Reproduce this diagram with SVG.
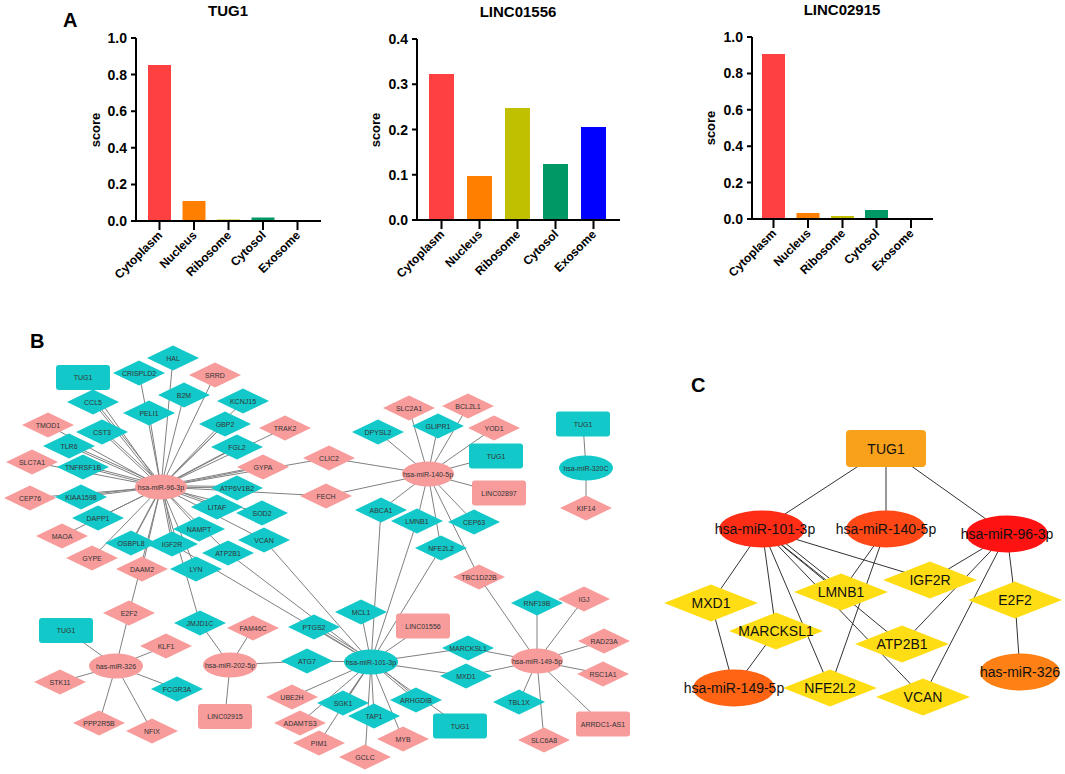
<svg xmlns="http://www.w3.org/2000/svg" xmlns:xlink="http://www.w3.org/1999/xlink" width="1065" height="774" viewBox="0 0 1065 774">
<style>
text{font-family:"Liberation Sans",Arial,sans-serif}
.lbl{font-weight:bold;font-size:20px;fill:#000}
.ttl{font-weight:bold;font-size:15px;text-anchor:middle}
.tk{font-weight:bold;font-size:14px;text-anchor:end}
.cat{font-weight:bold;font-size:12px;text-anchor:end}
.yl{font-weight:bold;font-size:13px;text-anchor:middle}
.ax{stroke:#000;stroke-width:2;fill:none}
.e{stroke:#808080;stroke-width:1}
.ec{stroke:#333;stroke-width:1}
.t use,.t rect,.t ellipse{fill:#12C8C8}
.p use,.p rect,.p ellipse{fill:#F79B9B}
.nb text{font-size:7px;fill:#333;text-anchor:middle}
.nc text{font-size:14px;fill:#111;text-anchor:middle}
.y use{fill:#FFDD15}
</style>
<defs>
<path id="dm" d="M-26,0 L0,-12.5 L26,0 L0,12.5Z"/>
<path id="dc" d="M-47,0 L0,-18.5 L47,0 L0,18.5Z"/>
</defs>
<rect width="1065" height="774" fill="#fff"/>

<!-- Panel A -->
<text class="lbl" x="63" y="27">A</text>
<g id="chart-tug1">
<text class="ttl" x="228" y="16">TUG1</text>
<text class="yl" transform="translate(100,130) rotate(-90)">score</text>
<rect x="148" y="65" width="23" height="156" fill="#FF4040"/>
<rect x="182.5" y="201" width="23" height="20" fill="#FF8000"/>
<rect x="217" y="219.5" width="23" height="1.5" fill="#C0C000"/>
<rect x="251.5" y="217.5" width="23" height="3.5" fill="#009966"/>
<path class="ax" d="M136,38V221H321 M131,38H136 M131,74.6H136 M131,111.2H136 M131,147.8H136 M131,184.4H136 M131,221H136 M159.5,221V230 M194,221V230 M228.5,221V230 M263,221V230 M297.5,221V230"/>
<text class="tk" x="127" y="43">1.0</text><text class="tk" x="127" y="79.6">0.8</text><text class="tk" x="127" y="116.2">0.6</text><text class="tk" x="127" y="152.8">0.4</text><text class="tk" x="127" y="189.4">0.2</text><text class="tk" x="127" y="226">0.0</text>
<text class="cat" transform="translate(163,236) rotate(-45)">Cytoplasm</text>
<text class="cat" transform="translate(197.5,236) rotate(-45)">Nucleus</text>
<text class="cat" transform="translate(232,236) rotate(-45)">Ribosome</text>
<text class="cat" transform="translate(266.5,236) rotate(-45)">Cytosol</text>
<text class="cat" transform="translate(301,236) rotate(-45)">Exosome</text>
</g>
<g id="chart-linc01556">
<text class="ttl" x="518" y="17">LINC01556</text>
<text class="yl" transform="translate(380,130) rotate(-90)">score</text>
<rect x="429" y="74" width="25" height="146" fill="#FF4040"/>
<rect x="467" y="176" width="25" height="44" fill="#FF8000"/>
<rect x="505" y="108" width="25" height="112" fill="#C0C000"/>
<rect x="543" y="164" width="25" height="56" fill="#009966"/>
<rect x="581" y="127" width="25" height="93" fill="#0000FF"/>
<path class="ax" d="M417,39V220H620 M412,39H417 M412,84.25H417 M412,129.5H417 M412,174.75H417 M412,220H417 M441.5,220V229 M479.5,220V229 M517.5,220V229 M555.5,220V229 M593.5,220V229"/>
<text class="tk" x="408" y="44">0.4</text><text class="tk" x="408" y="89.25">0.3</text><text class="tk" x="408" y="134.5">0.2</text><text class="tk" x="408" y="179.75">0.1</text><text class="tk" x="408" y="225">0.0</text>
<text class="cat" transform="translate(445,235) rotate(-45)">Cytoplasm</text>
<text class="cat" transform="translate(483,235) rotate(-45)">Nucleus</text>
<text class="cat" transform="translate(521,235) rotate(-45)">Ribosome</text>
<text class="cat" transform="translate(559,235) rotate(-45)">Cytosol</text>
<text class="cat" transform="translate(597,235) rotate(-45)">Exosome</text>
</g>
<g id="chart-linc02915">
<text class="ttl" x="842" y="15">LINC02915</text>
<text class="yl" transform="translate(715,128) rotate(-90)">score</text>
<rect x="762" y="54" width="23" height="165" fill="#FF4040"/>
<rect x="796.5" y="213" width="23" height="6" fill="#FF8000"/>
<rect x="831" y="216" width="23" height="3" fill="#C0C000"/>
<rect x="865" y="210" width="23" height="9" fill="#009966"/>
<path class="ax" d="M752,37V219H933 M747,37H752 M747,73.4H752 M747,109.8H752 M747,146.2H752 M747,182.6H752 M747,219H752 M773.5,219V228 M808,219V228 M842.5,219V228 M876.5,219V228 M911,219V228"/>
<text class="tk" x="743" y="42">1.0</text><text class="tk" x="743" y="78.4">0.8</text><text class="tk" x="743" y="114.8">0.6</text><text class="tk" x="743" y="151.2">0.4</text><text class="tk" x="743" y="187.6">0.2</text><text class="tk" x="743" y="224">0.0</text>
<text class="cat" transform="translate(777,234) rotate(-45)">Cytoplasm</text>
<text class="cat" transform="translate(811.5,234) rotate(-45)">Nucleus</text>
<text class="cat" transform="translate(846,234) rotate(-45)">Ribosome</text>
<text class="cat" transform="translate(880,234) rotate(-45)">Cytosol</text>
<text class="cat" transform="translate(914.5,234) rotate(-45)">Exosome</text>
</g>

<!-- Panel B -->
<text class="lbl" x="30" y="348">B</text>
<g id="connectors-b">
<g id="dbl">
<line class="e" x1="161" y1="487" x2="93" y2="402"/>
<line class="e" x1="161" y1="487" x2="102" y2="432"/>
<line class="e" x1="161" y1="487" x2="69" y2="446"/>
<line class="e" x1="161" y1="487" x2="83" y2="467"/>
<line class="e" x1="161" y1="487" x2="81" y2="497"/>
<line class="e" x1="161" y1="487" x2="263" y2="467"/>
<line class="e" x1="161" y1="487" x2="237" y2="488"/>
<line class="e" x1="161" y1="487" x2="225" y2="424"/>
<line class="e" x1="161" y1="487" x2="237" y2="447"/>
<line class="e" x1="161" y1="487" x2="217" y2="507"/>
<line class="e" x1="161" y1="487" x2="172" y2="544"/>
<line class="e" x1="161" y1="487" x2="131" y2="543"/>
<line class="e" x1="371" y1="662" x2="314" y2="627"/>
<line class="e" x1="371" y1="662" x2="416" y2="700"/>
<line class="e" x1="371" y1="662" x2="343" y2="703"/>
</g>
<use xlink:href="#dbl" href="#dbl" transform="translate(1.4,-1.4)"/>
<!-- hsa-miR-96-3p -->
<line class="e" x1="161" y1="487" x2="173" y2="358"/>
<line class="e" x1="161" y1="487" x2="83" y2="377"/>
<line class="e" x1="161" y1="487" x2="139" y2="373"/>
<line class="e" x1="161" y1="487" x2="215" y2="375"/>
<line class="e" x1="161" y1="487" x2="184" y2="395"/>
<line class="e" x1="161" y1="487" x2="243" y2="401"/>
<line class="e" x1="161" y1="487" x2="149" y2="413"/>
<line class="e" x1="161" y1="487" x2="48" y2="425"/>
<line class="e" x1="161" y1="487" x2="285" y2="428"/>
<line class="e" x1="161" y1="487" x2="32" y2="462"/>
<line class="e" x1="161" y1="487" x2="329" y2="458"/>
<line class="e" x1="161" y1="487" x2="30" y2="498"/>
<line class="e" x1="161" y1="487" x2="326" y2="496"/>
<line class="e" x1="161" y1="487" x2="98" y2="518"/>
<line class="e" x1="161" y1="487" x2="262" y2="513"/>
<line class="e" x1="161" y1="487" x2="62" y2="536"/>
<line class="e" x1="161" y1="487" x2="199" y2="529"/>
<line class="e" x1="161" y1="487" x2="264" y2="540"/>
<line class="e" x1="161" y1="487" x2="92" y2="558"/>
<line class="e" x1="161" y1="487" x2="228" y2="553"/>
<line class="e" x1="161" y1="487" x2="142" y2="569"/>
<line class="e" x1="161" y1="487" x2="196" y2="569"/>
<line class="e" x1="161" y1="487" x2="129" y2="613"/>
<line class="e" x1="161" y1="487" x2="200" y2="623"/>
<!-- hsa-miR-140-5p -->
<line class="e" x1="428" y1="474" x2="409" y2="408"/>
<line class="e" x1="428" y1="474" x2="468" y2="406"/>
<line class="e" x1="428" y1="474" x2="438" y2="426"/>
<line class="e" x1="428" y1="474" x2="494" y2="428"/>
<line class="e" x1="428" y1="474" x2="378" y2="432"/>
<line class="e" x1="428" y1="474" x2="496" y2="456"/>
<line class="e" x1="428" y1="474" x2="329" y2="458"/>
<line class="e" x1="428" y1="474" x2="326" y2="496"/>
<line class="e" x1="428" y1="474" x2="499" y2="493"/>
<line class="e" x1="428" y1="474" x2="381" y2="510"/>
<line class="e" x1="428" y1="474" x2="417" y2="521"/>
<line class="e" x1="428" y1="474" x2="474" y2="522"/>
<line class="e" x1="428" y1="474" x2="441" y2="548"/>
<line class="e" x1="428" y1="474" x2="479" y2="577"/>
<!-- hsa-miR-101-3p -->
<line class="e" x1="371" y1="662" x2="381" y2="510"/>
<line class="e" x1="371" y1="662" x2="417" y2="521"/>
<line class="e" x1="371" y1="662" x2="441" y2="548"/>
<line class="e" x1="371" y1="662" x2="361" y2="612"/>
<line class="e" x1="371" y1="662" x2="423" y2="626"/>
<line class="e" x1="371" y1="662" x2="307" y2="661"/>
<line class="e" x1="371" y1="662" x2="468" y2="648"/>
<line class="e" x1="371" y1="662" x2="466" y2="676"/>
<line class="e" x1="371" y1="662" x2="292" y2="697"/>
<line class="e" x1="371" y1="662" x2="300" y2="723"/>
<line class="e" x1="371" y1="662" x2="319" y2="743"/>
<line class="e" x1="371" y1="662" x2="374" y2="716"/>
<line class="e" x1="371" y1="662" x2="365" y2="757"/>
<line class="e" x1="371" y1="662" x2="403" y2="739"/>
<line class="e" x1="371" y1="662" x2="460" y2="726"/>
<line class="e" x1="371" y1="662" x2="264" y2="540"/>
<line class="e" x1="371" y1="662" x2="228" y2="553"/>
<line class="e" x1="371" y1="662" x2="172" y2="544"/>
<!-- hsa-miR-149-5p -->
<line class="e" x1="537" y1="661" x2="479" y2="577"/>
<line class="e" x1="537" y1="661" x2="537" y2="603"/>
<line class="e" x1="537" y1="661" x2="584" y2="599"/>
<line class="e" x1="537" y1="661" x2="604" y2="641"/>
<line class="e" x1="537" y1="661" x2="603" y2="674"/>
<line class="e" x1="537" y1="661" x2="603" y2="724"/>
<line class="e" x1="537" y1="661" x2="544" y2="740"/>
<line class="e" x1="537" y1="661" x2="519" y2="702"/>
<line class="e" x1="537" y1="661" x2="466" y2="676"/>
<line class="e" x1="537" y1="661" x2="468" y2="648"/>
<!-- has-miR-326 -->
<line class="e" x1="116" y1="666" x2="66" y2="630"/>
<line class="e" x1="116" y1="666" x2="129" y2="613"/>
<line class="e" x1="116" y1="666" x2="166" y2="646"/>
<line class="e" x1="116" y1="666" x2="60" y2="682"/>
<line class="e" x1="116" y1="666" x2="177" y2="689"/>
<line class="e" x1="116" y1="666" x2="99" y2="723"/>
<line class="e" x1="116" y1="666" x2="152" y2="731"/>
<!-- hsa-miR-202-5p -->
<line class="e" x1="230" y1="665" x2="200" y2="623"/>
<line class="e" x1="230" y1="665" x2="253" y2="628"/>
<line class="e" x1="230" y1="665" x2="307" y2="661"/>
<line class="e" x1="230" y1="665" x2="225" y2="716"/>
<!-- hsa-miR-320C -->
<line class="e" x1="586" y1="468" x2="583" y2="424"/>
<line class="e" x1="586" y1="468" x2="586" y2="508"/>
</g>

<g class="nb">
<g id="b-HAL" class="t"><use href="#dm" x="173" y="358"/><text x="173" y="360.5">HAL</text></g>
<g id="b-TUG1-a" class="t"><rect x="56" y="365" width="54" height="25" rx="3"/><text x="83" y="380">TUG1</text></g>
<g id="b-CRISPLD2" class="t"><use href="#dm" x="139" y="373"/><text x="139" y="375.5">CRISPLD2</text></g>
<g id="b-SRRD" class="p"><use href="#dm" x="215" y="375"/><text x="215" y="377.5">SRRD</text></g>
<g id="b-B2M" class="t"><use href="#dm" x="184" y="395"/><text x="184" y="397.5">B2M</text></g>
<g id="b-CCL5" class="t"><use href="#dm" x="93" y="402"/><text x="93" y="404.5">CCL5</text></g>
<g id="b-KCNJ15" class="t"><use href="#dm" x="243" y="401"/><text x="243" y="403.5">KCNJ15</text></g>
<g id="b-PELI1" class="t"><use href="#dm" x="149" y="413"/><text x="149" y="415.5">PELI1</text></g>
<g id="b-TMOD1" class="p"><use href="#dm" x="48" y="425"/><text x="48" y="427.5">TMOD1</text></g>
<g id="b-GBP2" class="t"><use href="#dm" x="225" y="424"/><text x="225" y="426.5">GBP2</text></g>
<g id="b-TRAK2" class="p"><use href="#dm" x="285" y="428"/><text x="285" y="430.5">TRAK2</text></g>
<g id="b-CST3" class="t"><use href="#dm" x="102" y="432"/><text x="102" y="434.5">CST3</text></g>
<g id="b-TLR6" class="t"><use href="#dm" x="69" y="446"/><text x="69" y="448.5">TLR6</text></g>
<g id="b-FGL2" class="t"><use href="#dm" x="237" y="447"/><text x="237" y="449.5">FGL2</text></g>
<g id="b-SLC7A1" class="p"><use href="#dm" x="32" y="462"/><text x="32" y="464.5">SLC7A1</text></g>
<g id="b-TNFRSF1B" class="t"><use href="#dm" x="83" y="467"/><text x="83" y="469.5">TNFRSF1B</text></g>
<g id="b-GYPA" class="p"><use href="#dm" x="263" y="467"/><text x="263" y="469.5">GYPA</text></g>
<g id="b-CLIC2" class="p"><use href="#dm" x="329" y="458"/><text x="329" y="460.5">CLIC2</text></g>
<g id="b-CEP76" class="p"><use href="#dm" x="30" y="498"/><text x="30" y="500.5">CEP76</text></g>
<g id="b-KIAA1598" class="t"><use href="#dm" x="81" y="497"/><text x="81" y="499.5">KIAA1598</text></g>
<g id="b-ATP6V1B2" class="t"><use href="#dm" x="237" y="488"/><text x="237" y="490.5">ATP6V1B2</text></g>
<g id="b-FECH" class="p"><use href="#dm" x="326" y="496"/><text x="326" y="498.5">FECH</text></g>
<g id="b-DAPP1" class="t"><use href="#dm" x="98" y="518"/><text x="98" y="520.5">DAPP1</text></g>
<g id="b-LITAF" class="t"><use href="#dm" x="217" y="507"/><text x="217" y="509.5">LITAF</text></g>
<g id="b-SOD2" class="t"><use href="#dm" x="262" y="513"/><text x="262" y="515.5">SOD2</text></g>
<g id="b-MAOA" class="p"><use href="#dm" x="62" y="536"/><text x="62" y="538.5">MAOA</text></g>
<g id="b-NAMPT" class="t"><use href="#dm" x="199" y="529"/><text x="199" y="531.5">NAMPT</text></g>
<g id="b-VCAN" class="t"><use href="#dm" x="264" y="540"/><text x="264" y="542.5">VCAN</text></g>
<g id="b-GYPE" class="p"><use href="#dm" x="92" y="558"/><text x="92" y="560.5">GYPE</text></g>
<g id="b-OSBPL8" class="t"><use href="#dm" x="131" y="543"/><text x="131" y="545.5">OSBPL8</text></g>
<g id="b-IGF2R" class="t"><use href="#dm" x="172" y="544"/><text x="172" y="546.5">IGF2R</text></g>
<g id="b-ATP2B1" class="t"><use href="#dm" x="228" y="553"/><text x="228" y="555.5">ATP2B1</text></g>
<g id="b-DAAM2" class="p"><use href="#dm" x="142" y="569"/><text x="142" y="571.5">DAAM2</text></g>
<g id="b-LYN" class="t"><use href="#dm" x="196" y="569"/><text x="196" y="571.5">LYN</text></g>
<g id="b-hsa-miR-96-3p" class="p"><ellipse cx="161" cy="487" rx="26" ry="12.5"/><text x="161" y="489.5">hsa-miR-96-3p</text></g>

<g id="b-SLC2A1" class="p"><use href="#dm" x="409" y="408"/><text x="409" y="410.5">SLC2A1</text></g>
<g id="b-BCL2L1" class="p"><use href="#dm" x="468" y="406"/><text x="468" y="408.5">BCL2L1</text></g>
<g id="b-GLIPR1" class="t"><use href="#dm" x="438" y="426"/><text x="438" y="428.5">GLIPR1</text></g>
<g id="b-YOD1" class="p"><use href="#dm" x="494" y="428"/><text x="494" y="430.5">YOD1</text></g>
<g id="b-DPYSL2" class="t"><use href="#dm" x="378" y="432"/><text x="378" y="434.5">DPYSL2</text></g>
<g id="b-TUG1-b" class="t"><rect x="469" y="443.5" width="54" height="25" rx="3"/><text x="496" y="458.5">TUG1</text></g>
<g id="b-LINC02897" class="p"><rect x="472" y="480.5" width="54" height="25" rx="3"/><text x="499" y="495.5">LINC02897</text></g>
<g id="b-ABCA1" class="t"><use href="#dm" x="381" y="510"/><text x="381" y="512.5">ABCA1</text></g>
<g id="b-LMNB1" class="t"><use href="#dm" x="417" y="521"/><text x="417" y="523.5">LMNB1</text></g>
<g id="b-CEP63" class="t"><use href="#dm" x="474" y="522"/><text x="474" y="524.5">CEP63</text></g>
<g id="b-hsa-miR-140-5p" class="p"><ellipse cx="428" cy="474" rx="26" ry="12.5"/><text x="428" y="476.5">hsa-miR-140-5p</text></g>

<g id="b-TUG1-e" class="t"><rect x="556" y="411.5" width="54" height="25" rx="3"/><text x="583" y="426.5">TUG1</text></g>
<g id="b-KIF14" class="p"><use href="#dm" x="586" y="508"/><text x="586" y="510.5">KIF14</text></g>
<g id="b-hsa-miR-320C" class="t"><ellipse cx="586" cy="468" rx="27" ry="12.5"/><text x="586" y="470.5">hsa-miR-320C</text></g>

<g id="b-E2F2" class="p"><use href="#dm" x="129" y="613"/><text x="129" y="615.5">E2F2</text></g>
<g id="b-TUG1-d" class="t"><rect x="39" y="618" width="54" height="25" rx="3"/><text x="66" y="633">TUG1</text></g>
<g id="b-KLF1" class="p"><use href="#dm" x="166" y="646"/><text x="166" y="648.5">KLF1</text></g>
<g id="b-STK11" class="p"><use href="#dm" x="60" y="682"/><text x="60" y="684.5">STK11</text></g>
<g id="b-FCGR3A" class="t"><use href="#dm" x="177" y="689"/><text x="177" y="691.5">FCGR3A</text></g>
<g id="b-PPP2R5B" class="p"><use href="#dm" x="99" y="723"/><text x="99" y="725.5">PPP2R5B</text></g>
<g id="b-NFIX" class="p"><use href="#dm" x="152" y="731"/><text x="152" y="733.5">NFIX</text></g>
<g id="b-has-miR-326" class="p"><ellipse cx="116" cy="666" rx="27" ry="12.5"/><text x="116" y="668.5">has-miR-326</text></g>

<g id="b-JMJD1C" class="t"><use href="#dm" x="200" y="623"/><text x="200" y="625.5">JMJD1C</text></g>
<g id="b-FAM46C" class="p"><use href="#dm" x="253" y="628"/><text x="253" y="630.5">FAM46C</text></g>
<g id="b-LINC02915" class="p"><rect x="198" y="704" width="54" height="25" rx="3"/><text x="225" y="719">LINC02915</text></g>
<g id="b-hsa-miR-202-5p" class="p"><ellipse cx="230" cy="665" rx="27" ry="12.5"/><text x="230" y="667.5">hsa-miR-202-5p</text></g>

<g id="b-PTGS2" class="t"><use href="#dm" x="314" y="627"/><text x="314" y="629.5">PTGS2</text></g>
<g id="b-ATG7" class="t"><use href="#dm" x="307" y="661"/><text x="307" y="663.5">ATG7</text></g>
<g id="b-MCL1" class="t"><use href="#dm" x="361" y="612"/><text x="361" y="614.5">MCL1</text></g>
<g id="b-LINC01556" class="p"><rect x="396" y="613.5" width="54" height="25" rx="3"/><text x="423" y="628.5">LINC01556</text></g>
<g id="b-NFE2L2" class="t"><use href="#dm" x="441" y="548"/><text x="441" y="550.5">NFE2L2</text></g>
<g id="b-UBE2H" class="p"><use href="#dm" x="292" y="697"/><text x="292" y="699.5">UBE2H</text></g>
<g id="b-ADAMTS3" class="p"><use href="#dm" x="300" y="723"/><text x="300" y="725.5">ADAMTS3</text></g>
<g id="b-PIM1" class="p"><use href="#dm" x="319" y="743"/><text x="319" y="745.5">PIM1</text></g>
<g id="b-SGK1" class="t"><use href="#dm" x="343" y="703"/><text x="343" y="705.5">SGK1</text></g>
<g id="b-GCLC" class="p"><use href="#dm" x="365" y="757"/><text x="365" y="759.5">GCLC</text></g>
<g id="b-MYB" class="p"><use href="#dm" x="403" y="739"/><text x="403" y="741.5">MYB</text></g>
<g id="b-TAP1" class="t"><use href="#dm" x="374" y="716"/><text x="374" y="718.5">TAP1</text></g>
<g id="b-ARHGDIB" class="t"><use href="#dm" x="416" y="700"/><text x="416" y="702.5">ARHGDIB</text></g>
<g id="b-TUG1-c" class="t"><rect x="433" y="713.5" width="54" height="25" rx="3"/><text x="460" y="728.5">TUG1</text></g>
<g id="b-MARCKSL1" class="t"><use href="#dm" x="468" y="648"/><text x="468" y="650.5">MARCKSL1</text></g>
<g id="b-MXD1" class="t"><use href="#dm" x="466" y="676"/><text x="466" y="678.5">MXD1</text></g>
<g id="b-hsa-miR-101-3p" class="t"><ellipse cx="371" cy="662" rx="27" ry="12.5"/><text x="371" y="664.5">hsa-miR-101-3p</text></g>

<g id="b-TBC1D22B" class="p"><use href="#dm" x="479" y="577"/><text x="479" y="579.5">TBC1D22B</text></g>
<g id="b-RNF19B" class="t"><use href="#dm" x="537" y="603"/><text x="537" y="605.5">RNF19B</text></g>
<g id="b-IGJ" class="p"><use href="#dm" x="584" y="599"/><text x="584" y="601.5">IGJ</text></g>
<g id="b-RAD23A" class="p"><use href="#dm" x="604" y="641"/><text x="604" y="643.5">RAD23A</text></g>
<g id="b-RSC1A1" class="p"><use href="#dm" x="603" y="674"/><text x="603" y="676.5">RSC1A1</text></g>
<g id="b-TBL1X" class="t"><use href="#dm" x="519" y="702"/><text x="519" y="704.5">TBL1X</text></g>
<g id="b-ARRDC1-AS1" class="p"><rect x="576" y="711.5" width="54" height="25" rx="3"/><text x="603" y="726.5">ARRDC1-AS1</text></g>
<g id="b-SLC6A8" class="p"><use href="#dm" x="544" y="740"/><text x="544" y="742.5">SLC6A8</text></g>
<g id="b-hsa-miR-149-5p" class="p"><ellipse cx="537" cy="661" rx="26" ry="12.5"/><text x="537" y="663.5">hsa-miR-149-5p</text></g>
</g>

<!-- Panel C -->
<text class="lbl" x="691" y="392">C</text>
<g id="connectors-c">
<line class="ec" x1="886" y1="448" x2="762" y2="529"/>
<line class="ec" x1="886" y1="448" x2="886" y2="529"/>
<line class="ec" x1="886" y1="448" x2="1007" y2="534"/>
<line class="ec" x1="762" y1="529" x2="711" y2="603"/>
<line class="ec" x1="762" y1="529" x2="776" y2="631"/>
<line class="ec" x1="762" y1="529" x2="830" y2="688"/>
<line class="ec" x1="762" y1="529" x2="841" y2="592"/>
<line class="ec" x1="765" y1="527" x2="844" y2="590"/>
<line class="ec" x1="762" y1="529" x2="930" y2="580"/>
<line class="ec" x1="762" y1="529" x2="902" y2="644"/>
<line class="ec" x1="762" y1="529" x2="923" y2="697"/>
<line class="ec" x1="886" y1="529" x2="841" y2="592"/>
<line class="ec" x1="886" y1="529" x2="830" y2="688"/>
<line class="ec" x1="1007" y1="534" x2="930" y2="580"/>
<line class="ec" x1="1007" y1="534" x2="902" y2="644"/>
<line class="ec" x1="1007" y1="534" x2="923" y2="697"/>
<line class="ec" x1="1007" y1="534" x2="1015" y2="600"/>
<line class="ec" x1="1015" y1="600" x2="1020" y2="672"/>
<line class="ec" x1="711" y1="603" x2="734" y2="688"/>
<line class="ec" x1="776" y1="631" x2="734" y2="688"/>
</g>
<g class="nc">
<g id="c-TUG1"><rect x="846" y="430" width="80" height="37" rx="4" fill="#F9A11B"/><text x="886" y="453.5">TUG1</text></g>
<g id="c-hsa-miR-101-3p"><ellipse cx="762" cy="529" rx="43" ry="18.5" fill="#FF2D16"/><text x="765" y="534">hsa-miR-101-3p</text></g>
<g id="c-hsa-miR-140-5p"><ellipse cx="886" cy="529" rx="40" ry="18.5" fill="#FF4815"/><text x="886" y="534">hsa-miR-140-5p</text></g>
<g id="c-hsa-miR-96-3p"><ellipse cx="1007" cy="534" rx="41" ry="18.5" fill="#FF1212"/><text x="1007" y="539">hsa-miR-96-3p</text></g>
<g id="c-IGF2R" class="y"><use href="#dc" x="930" y="580"/><text x="930" y="585">IGF2R</text></g>
<g id="c-E2F2" class="y"><use href="#dc" x="1015" y="600"/><text x="1015" y="605">E2F2</text></g>
<g id="c-LMNB1" class="y"><use href="#dc" x="841" y="592"/><text x="841" y="597">LMNB1</text></g>
<g id="c-MXD1" class="y"><use href="#dc" x="711" y="603"/><text x="711" y="608">MXD1</text></g>
<g id="c-MARCKSL1" class="y"><use href="#dc" x="776" y="631"/><text x="776" y="636">MARCKSL1</text></g>
<g id="c-ATP2B1" class="y"><use href="#dc" x="902" y="644"/><text x="902" y="649">ATP2B1</text></g>
<g id="c-NFE2L2" class="y"><use href="#dc" x="830" y="688"/><text x="830" y="693">NFE2L2</text></g>
<g id="c-VCAN" class="y"><use href="#dc" x="923" y="697"/><text x="923" y="702">VCAN</text></g>
<g id="c-has-miR-326"><ellipse cx="1020" cy="672" rx="40" ry="18.5" fill="#FF8014"/><text x="1020" y="677">has-miR-326</text></g>
<g id="c-hsa-miR-149-5p"><ellipse cx="734" cy="688" rx="41" ry="18.5" fill="#FF6414"/><text x="734" y="693">hsa-miR-149-5p</text></g>
</g>
</svg>
